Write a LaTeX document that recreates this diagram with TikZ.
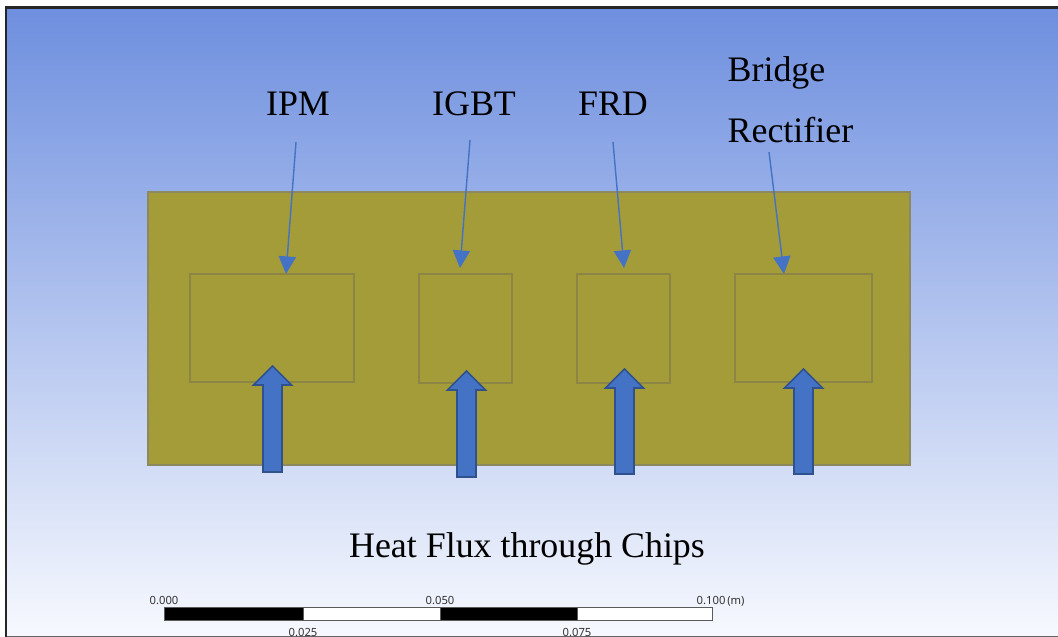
\documentclass[tikz,border=0pt]{standalone}
\usepackage{fontspec}
\setmainfont{Liberation Serif}
\newfontfamily\scalebarfont{Noto Sans}
\usetikzlibrary{arrows.meta,fit}
\definecolor{bgtop}{RGB}{110,143,223}
\definecolor{bgbot}{RGB}{247,249,254}
\definecolor{platecol}{RGB}{163,156,57}
\definecolor{plateedge}{RGB}{140,136,96}
\definecolor{chipedge}{RGB}{140,133,70}
\definecolor{arrowfill}{RGB}{68,114,196}
\definecolor{arrowedge}{RGB}{47,82,143}
\definecolor{baredge}{RGB}{90,90,90}
\newcommand\heatarrow[3]{%
  \draw[heat] (#1-9.5,#3) -- (#1-9.5,#2+19) -- (#1-19,#2+19) -- (#1,#2)
    -- (#1+19,#2+19) -- (#1+9.5,#2+19) -- (#1+9.5,#3) -- cycle;}
\begin{document}
\begin{tikzpicture}[x=0.01cm,y=-0.01cm,
  plate/.style={draw=plateedge,fill=platecol,line width=0.3pt,inner sep=0pt},
  chip/.style={draw=chipedge,line width=0.3pt,inner sep=0pt},
  ptr/.style={draw=arrowfill,line width=0.4pt,-{Triangle[length=5pt,width=4.9pt]}},
  heat/.style={fill=arrowfill,draw=arrowedge,line width=0.45pt,line join=miter},
  lbl/.style={font=\fontsize{10.2pt}{12pt}\selectfont,inner sep=0pt},
  sbl/.style={font=\scalebarfont\fontsize{3.2pt}{3.7pt}\selectfont,inner sep=0pt,text=black!80},
  blk/.style={fill=black,draw=baredge,line width=0.25pt},
  wht/.style={fill=white,draw=baredge,line width=0.25pt}]
\useasboundingbox (0,0) rectangle (1058,637);
\fill[white] (0,0) rectangle (1058,637);
\shade[top color=bgtop,bottom color=bgbot] (6,8) rectangle (1058,637);
\draw[black!60,line width=0.25pt] (6,636.5) -- (1058,636.5);
\draw[black!85,line width=0.7pt] (6,637) -- (6,7.5) -- (1058,7.5);

% plate and chips
\node[plate,fit={(148,192) (910,465)}] (plate) {};
\node[chip,fit={(190,274) (354,382)}] (ipm) {};
\node[chip,fit={(419,274) (512,383)}] (igbt) {};
\node[chip,fit={(577,274) (670,383)}] (frd) {};
\node[chip,fit={(735,274) (872,382)}] (bridge) {};

% labels
\node[lbl,anchor=base] (ipmlbl) at (298,116) {IPM};
\node[lbl,anchor=base] (igbtlbl) at (474,116) {IGBT};
\node[lbl,anchor=base] (frdlbl) at (613,116) {FRD};
\node[lbl,anchor=base west] (bridgelbl) at (727,82) {Bridge};
\node[lbl,anchor=base west] (rectlbl) at (727,143) {Rectifier};
\node[lbl,anchor=base] (title) at (527,557) {Heat Flux through Chips};

% pointers
\coordinate (ipmS) at (296,142);   \coordinate (ipmT) at (286,274);
\coordinate (igbtS) at (470,140);  \coordinate (igbtT) at (460,268);
\coordinate (frdS) at (613,142);   \coordinate (frdT) at (624,268);
\coordinate (brS) at (769,152);    \coordinate (brT) at (784,274);
\draw[ptr] (ipmS) -- (ipmT);
\draw[ptr] (igbtS) -- (igbtT);
\draw[ptr] (frdS) -- (frdT);
\draw[ptr] (brS) -- (brT);

% heat flux arrows
\heatarrow{272.5}{366}{472}
\heatarrow{466.5}{371}{477}
\heatarrow{624.5}{369}{474}
\heatarrow{803.5}{369}{474}

% scale bar
\draw[blk] (164,607) rectangle (303,620);
\draw[wht] (303,607) rectangle (440,620);
\draw[blk] (440,607) rectangle (577,620);
\draw[wht] (577,607) rectangle (712,620);
\node[sbl,anchor=base] (s0) at (164,604) {0.000};
\node[sbl,anchor=base] (s50) at (440,604) {0.050};
\node[sbl,anchor=base west] (s100) at (696,604) {0.100\,(m)};
\node[sbl,anchor=base] (s25) at (303,636) {0.025};
\node[sbl,anchor=base] (s75) at (577,636) {0.075};
\end{tikzpicture}
\end{document}
